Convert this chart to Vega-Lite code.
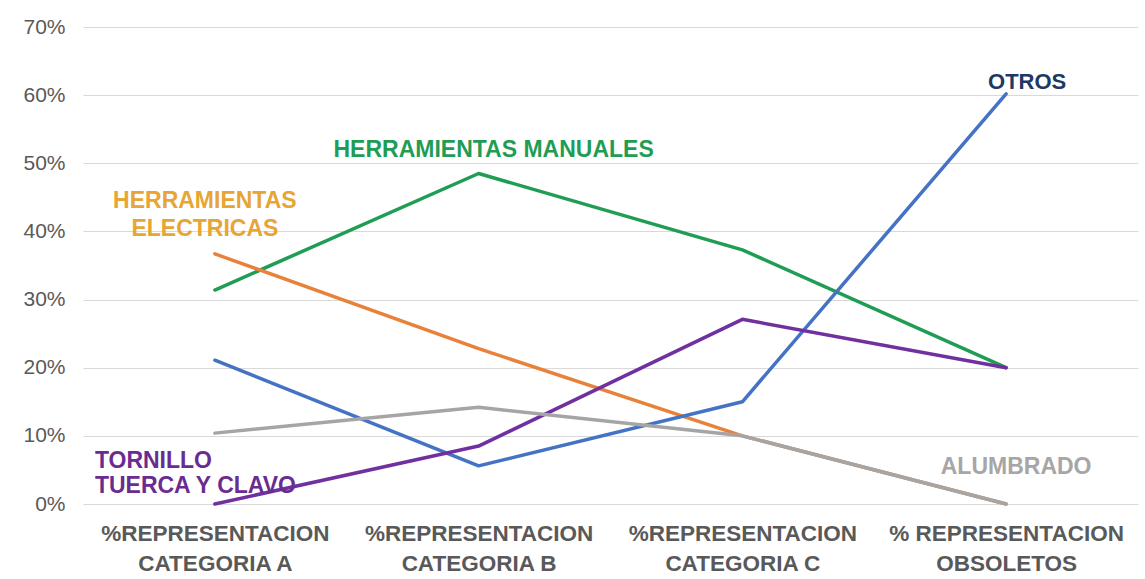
{
  "$schema": "https://vega.github.io/schema/vega-lite/v6.json",
  "width": 1055,
  "height": 477,
  "autosize": {"type": "none"},
  "padding": {"left": 83, "top": 27, "right": 7, "bottom": 75},
  "background": "white",
  "config": {
    "view": {"stroke": null},
    "font": "Liberation Sans"
  },
  "data": {
    "values": [
      {"serie": "HERRAMIENTAS MANUALES", "categoria": "%REPRESENTACION|CATEGORIA A", "valor": 0.314},
      {"serie": "HERRAMIENTAS MANUALES", "categoria": "%REPRESENTACION|CATEGORIA B", "valor": 0.485},
      {"serie": "HERRAMIENTAS MANUALES", "categoria": "%REPRESENTACION|CATEGORIA C", "valor": 0.373},
      {"serie": "HERRAMIENTAS MANUALES", "categoria": "% REPRESENTACION|OBSOLETOS", "valor": 0.2},
      {"serie": "HERRAMIENTAS ELECTRICAS", "categoria": "%REPRESENTACION|CATEGORIA A", "valor": 0.367},
      {"serie": "HERRAMIENTAS ELECTRICAS", "categoria": "%REPRESENTACION|CATEGORIA B", "valor": 0.228},
      {"serie": "HERRAMIENTAS ELECTRICAS", "categoria": "%REPRESENTACION|CATEGORIA C", "valor": 0.1},
      {"serie": "HERRAMIENTAS ELECTRICAS", "categoria": "% REPRESENTACION|OBSOLETOS", "valor": 0.0},
      {"serie": "OTROS", "categoria": "%REPRESENTACION|CATEGORIA A", "valor": 0.211},
      {"serie": "OTROS", "categoria": "%REPRESENTACION|CATEGORIA B", "valor": 0.056},
      {"serie": "OTROS", "categoria": "%REPRESENTACION|CATEGORIA C", "valor": 0.15},
      {"serie": "OTROS", "categoria": "% REPRESENTACION|OBSOLETOS", "valor": 0.602},
      {"serie": "TORNILLO TUERCA Y CLAVO", "categoria": "%REPRESENTACION|CATEGORIA A", "valor": 0.0},
      {"serie": "TORNILLO TUERCA Y CLAVO", "categoria": "%REPRESENTACION|CATEGORIA B", "valor": 0.085},
      {"serie": "TORNILLO TUERCA Y CLAVO", "categoria": "%REPRESENTACION|CATEGORIA C", "valor": 0.271},
      {"serie": "TORNILLO TUERCA Y CLAVO", "categoria": "% REPRESENTACION|OBSOLETOS", "valor": 0.2},
      {"serie": "ALUMBRADO", "categoria": "%REPRESENTACION|CATEGORIA A", "valor": 0.104},
      {"serie": "ALUMBRADO", "categoria": "%REPRESENTACION|CATEGORIA B", "valor": 0.142},
      {"serie": "ALUMBRADO", "categoria": "%REPRESENTACION|CATEGORIA C", "valor": 0.1},
      {"serie": "ALUMBRADO", "categoria": "% REPRESENTACION|OBSOLETOS", "valor": 0.0}
    ]
  },
  "encoding": {
    "x": {
      "field": "categoria",
      "type": "nominal",
      "sort": null,
      "scale": {
        "type": "point",
        "padding": 0.5,
        "domain": ["%REPRESENTACION|CATEGORIA A", "%REPRESENTACION|CATEGORIA B", "%REPRESENTACION|CATEGORIA C", "% REPRESENTACION|OBSOLETOS"]
      },
      "axis": {
        "title": null,
        "labelExpr": "split(datum.label, '|')",
        "labelAngle": 0,
        "labelFont": "Liberation Sans",
        "labelFontSize": 22.5,
        "labelFontWeight": "bold",
        "labelColor": "#595959",
        "labelLineHeight": 30,
        "labelBaseline": "top",
        "labelPadding": 18,
        "labelLimit": 400,
        "ticks": false,
        "domain": false,
        "grid": false
      }
    },
    "y": {
      "field": "valor",
      "type": "quantitative",
      "scale": {"domain": [0, 0.7], "nice": false},
      "axis": {
        "title": null,
        "values": [0, 0.1, 0.2, 0.3, 0.4, 0.5, 0.6, 0.7],
        "format": ".0%",
        "labelFont": "Liberation Sans",
        "labelFontSize": 21,
        "labelColor": "#595959",
        "labelPadding": 18,
        "ticks": false,
        "domain": false,
        "grid": true,
        "gridColor": "#D9D9D9",
        "gridWidth": 1.2
      }
    }
  },
  "layer": [
    {
      "mark": {"type": "line", "strokeWidth": 3.5, "strokeCap": "round", "strokeJoin": "round"},
      "encoding": {
        "color": {
          "field": "serie",
          "type": "nominal",
          "legend": null,
          "scale": {
            "domain": ["HERRAMIENTAS MANUALES", "HERRAMIENTAS ELECTRICAS", "OTROS", "TORNILLO TUERCA Y CLAVO", "ALUMBRADO"],
            "range": ["#1F9D55", "#E8823A", "#4472C4", "#7030A0", "#A5A5A5"]
          }
        }
      }
    },
    {
      "data": {"values": [{"categoria": "%REPRESENTACION|CATEGORIA A", "valor": 0.444, "etiqueta": "HERRAMIENTAS\nELECTRICAS"}]},
      "mark": {"type": "text", "align": "center", "baseline": "middle", "dx": -10, "fontSize": 23, "fontWeight": "bold", "lineBreak": "\n", "lineHeight": 28, "color": "#E6A534"},
      "encoding": {"text": {"field": "etiqueta"}}
    },
    {
      "data": {"values": [{"categoria": "%REPRESENTACION|CATEGORIA B", "valor": 0.52, "etiqueta": "HERRAMIENTAS MANUALES"}]},
      "mark": {"type": "text", "align": "center", "baseline": "middle", "dx": 15, "fontSize": 23, "fontWeight": "bold", "color": "#1F9D55"},
      "encoding": {"text": {"field": "etiqueta"}}
    },
    {
      "data": {"values": [{"categoria": "% REPRESENTACION|OBSOLETOS", "valor": 0.619, "etiqueta": "OTROS"}]},
      "mark": {"type": "text", "align": "center", "baseline": "middle", "dx": 21, "fontSize": 22, "fontWeight": "bold", "color": "#203864"},
      "encoding": {"text": {"field": "etiqueta"}}
    },
    {
      "data": {"values": [{"categoria": "%REPRESENTACION|CATEGORIA A", "valor": 0.0624, "etiqueta": "TORNILLO\nTUERCA Y CLAVO"}]},
      "mark": {"type": "text", "align": "left", "baseline": "middle", "dx": -120, "fontSize": 23, "fontWeight": "bold", "lineBreak": "\n", "lineHeight": 25, "color": "#6A2C8F"},
      "encoding": {"text": {"field": "etiqueta"}}
    },
    {
      "data": {"values": [{"categoria": "% REPRESENTACION|OBSOLETOS", "valor": 0.054, "etiqueta": "ALUMBRADO"}]},
      "mark": {"type": "text", "align": "center", "baseline": "middle", "dx": 10, "fontSize": 23, "fontWeight": "bold", "color": "#A6A6A6"},
      "encoding": {"text": {"field": "etiqueta"}}
    }
  ]
}
